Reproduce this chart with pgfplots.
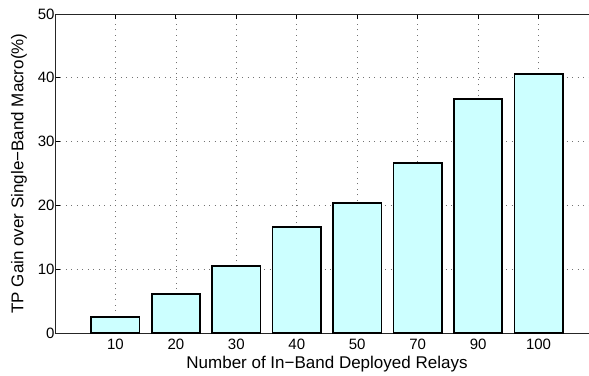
\documentclass[border=0pt]{standalone}
\usepackage{pgfplots}
\pgfplotsset{compat=1.18}
\usepackage{fontspec}
\setmainfont{Liberation Sans}
\definecolor{barcyan}{RGB}{204,255,255}
\begin{document}
\begin{tikzpicture}
\useasboundingbox (-55pt,-42pt) rectangle (534pt,333pt);
\begin{axis}[
  at={(0,0)}, anchor=south west,
  scale only axis, width=544pt, height=319pt,
  xmin=0, xmax=9, ymin=0, ymax=50,
  xtick={1,...,8},
  xticklabels={10,20,30,40,50,70,90,100},
  ytick={0,10,...,50},
  tick align=inside,
  major tick length=5pt,
  tick style={black, line width=0.8pt},
  axis line style={line width=0.8pt, black!85},
  grid=major,
  major grid style={black!55, line width=0.7pt, dash pattern=on 1pt off 4.5pt},
  /pgf/number format/assume math mode=true,
  tick label style={font=\fontsize{15}{18}\selectfont},
  xticklabel style={yshift=-2.5pt},
  yticklabel style={xshift=3pt},
  xlabel={Number of In−Band Deployed Relays},
  ylabel={TP Gain over Single−Band Macro(\%)},
  xlabel style={font=\fontsize{17}{20}\selectfont,
    at={(axis description cs:0.5,-0.1107)}, anchor=base},
  ylabel style={font=\fontsize{17}{20}\selectfont,
    at={(axis description cs:-0.0583,0.5)}, anchor=base},
]
\addplot[ybar, bar width=0.8, fill=barcyan, draw=black, line width=1.6pt]
  coordinates {(1,2.5) (2,6.1) (3,10.5) (4,16.6) (5,20.4) (6,26.6) (7,36.7) (8,40.6)};
\end{axis}
\end{tikzpicture}
\end{document}
